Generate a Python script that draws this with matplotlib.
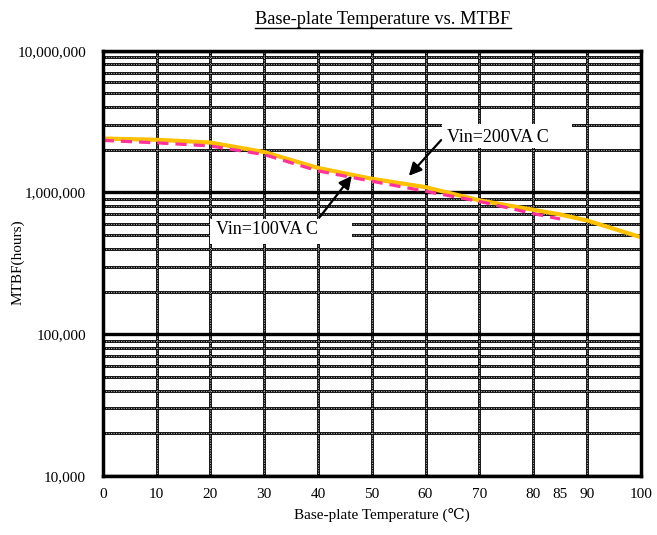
import matplotlib
matplotlib.use("Agg")
import matplotlib.pyplot as plt
from matplotlib.patches import Rectangle
from matplotlib.lines import Line2D
import numpy as np

plt.rcParams['font.family'] = ['Liberation Serif', 'DejaVu Serif', 'Noto Sans CJK JP']

# ---- data ----
temp_200 = [0, 10, 20, 30, 40, 50, 60, 70, 80, 85, 90, 100]
mtbf_200 = [2400000, 2355000, 2250000, 1930000, 1490000, 1250000, 1090000,
            880000, 755000, 700000, 635000, 484000]
temp_100 = [0, 10, 20, 30, 40, 50, 60, 70, 80, 85]
mtbf_100 = [2330000, 2240000, 2130000, 1850000, 1420000, 1200000, 1020000,
            865000, 710000, 650000]
xticks = [0, 10, 20, 30, 40, 50, 60, 70, 80, 85, 90, 100]
xgrid = [10, 20, 30, 40, 50, 60, 70, 80, 90]
yticks = [10000, 100000, 1000000, 10000000]
ytick_labels = ['10,000', '100,000', '1,000,000', '10,000,000']

title = 'Base-plate Temperature vs. MTBF'
xlabel = 'Base-plate Temperature (℃)'
ylabel = 'MTBF(hours)'
label_200 = 'Vin=200VA C'
label_100 = 'Vin=100VA C'

fig = plt.figure(figsize=(6.57, 5.35), dpi=100)
W, H = 657, 535
ax = fig.add_axes([102.7 / W, 1 - 476 / H, (640.7 - 102.7) / W, (476 - 50.7) / H])
ax.set_yscale('log')
ax.set_xlim(0, 100)
ax.set_ylim(1e4, 1e7)

# grid
minor = [m * 10 ** e for e in range(4, 7) for m in range(2, 10)]
for v in minor:
    ax.axhline(v, color='black', lw=2.0, zorder=1)
    ax.axhline(v, color='white', lw=0.45, ls=(0, (2, 2)), zorder=1.1)
for v in yticks:
    ax.axhline(v, color='black', lw=2.4, zorder=1.2)
for v in xgrid:
    ax.axvline(v, color='black', lw=2.0, zorder=1)
    ax.axvline(v, color='white', lw=0.45, ls=(0, (2, 2)), zorder=1.1)

for s in ax.spines.values():
    s.set_linewidth(2.5)
    s.set_zorder(5)

ax.set_xticks(xticks)
ax.set_xticklabels([str(t) for t in xticks])
ax.set_yticks(yticks)
ax.set_yticklabels(ytick_labels)
ax.yaxis.set_minor_locator(matplotlib.ticker.NullLocator())
ax.tick_params(axis='both', length=0, labelsize=11, colors='black')
ax.tick_params(axis='x', pad=9)
ax.tick_params(axis='y', pad=12)

# curves
ax.plot(temp_200, mtbf_200, color='#FFC000', lw=3.0, zorder=3, solid_capstyle='butt')
ax.plot(temp_100, mtbf_100, color='#FF3399', lw=2.3, ls=(0, (3.5, 2.2)), zorder=3.2)

# annotation boxes
ax.add_patch(Rectangle((63.1, 2.06e6), 24.2, 1.0e6, facecolor='white',
                       edgecolor='none', zorder=4))
ax.text(64.0, 2.45e6, label_200, fontsize=13, va='center', ha='left', zorder=4.5)
ax.annotate('', xy=(56.9, 1.31e6), xytext=(62.9, 2.34e6),
            arrowprops=dict(arrowstyle='-|>', color='black', lw=1.6,
                            mutation_scale=19, shrinkA=0, shrinkB=0), zorder=4.6)

ax.add_patch(Rectangle((20.0, 4.35e5), 26.3, 2.15e5, facecolor='white',
                       edgecolor='none', zorder=4))
ax.text(21.0, 5.45e5, label_100, fontsize=13, va='center', ha='left', zorder=4.5)
ax.annotate('', xy=(46.3, 1.31e6), xytext=(40.4, 6.74e5),
            arrowprops=dict(arrowstyle='-|>', color='black', lw=1.6,
                            mutation_scale=19, shrinkA=0, shrinkB=0), zorder=4.6)

# labels
fig.text(382 / W, 1 - 515 / H, xlabel, ha='center', va='center', fontsize=11)
fig.text(18 / W, 1 - 262 / H, ylabel, ha='center', va='center', rotation=90, fontsize=11)
t = fig.text(383 / W, 1 - 20 / H, title, ha='center', va='center', fontsize=13.2)

fig.canvas.draw()
bb = t.get_window_extent()
uy = bb.y0 + 1
fig.add_artist(Line2D([bb.x0 / W, bb.x1 / W], [uy / H, uy / H], color='black', lw=1.0,
                      transform=fig.transFigure))

fig.savefig('out.png', dpi=100)
